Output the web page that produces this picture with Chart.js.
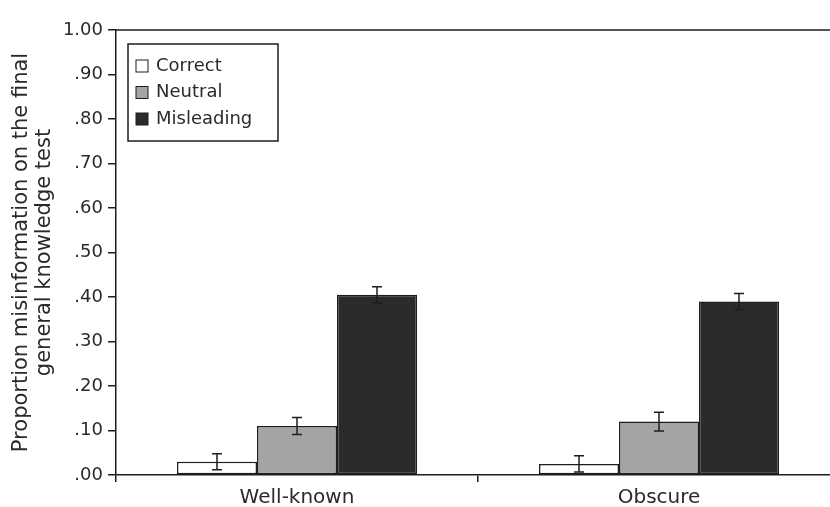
<!DOCTYPE html>
<html>
<head>
<meta charset="utf-8">
<script src="https://cdn.jsdelivr.net/npm/chart.js@4.4.1/dist/chart.umd.min.js"></script>
<style>
  html, body { margin: 0; padding: 0; background: #fff; overflow: hidden; }
  #wrap { width: 850px; height: 507px; }
</style>
</head>
<body>
<div id="wrap"><canvas id="myChart" width="850" height="507"></canvas></div>
<script>
// data
const categories = ['Well-known', 'Obscure'];
const seriesNames = ['Correct', 'Neutral', 'Misleading'];
const correct = [0.03, 0.025];
const neutral = [0.11, 0.12];
const misleading = [0.405, 0.39];
const correctErr = [0.018, 0.018];
const neutralErr = [0.019, 0.021];
const misleadingErr = [0.018, 0.018];
const yTickValues = [0, 0.1, 0.2, 0.3, 0.4, 0.5, 0.6, 0.7, 0.8, 0.9, 1.0];
const yTitle = ['Proportion misinformation on the final', 'general knowledge test'];

const ink = '#1e1e1e';
const txt = '#2a2a2a';
const fam = '"DejaVu Sans", sans-serif';

// top line of the frame
const framePlugin = {
  id: 'frame',
  beforeDatasetsDraw(chart) {
    const a = chart.chartArea;
    const ctx = chart.ctx;
    ctx.save();
    ctx.strokeStyle = ink;
    ctx.lineWidth = 1.5;
    ctx.beginPath();
    ctx.moveTo(a.left, a.top);
    ctx.lineTo(a.right, a.top);
    ctx.stroke();
    ctx.restore();
  }
};

// error bars on top of each bar
const errorBarPlugin = {
  id: 'errorBars',
  afterDatasetsDraw(chart) {
    const ctx = chart.ctx;
    const y = chart.scales.y;
    ctx.save();
    ctx.strokeStyle = ink;
    ctx.lineWidth = 1.5;
    chart.data.datasets.forEach((ds, i) => {
      const meta = chart.getDatasetMeta(i);
      meta.data.forEach((bar, j) => {
        const v = ds.data[j];
        const e = ds.errors[j];
        const top = y.getPixelForValue(v + e);
        const bot = y.getPixelForValue(v - e);
        ctx.beginPath();
        ctx.moveTo(bar.x, top); ctx.lineTo(bar.x, bot);
        ctx.moveTo(bar.x - 5, top); ctx.lineTo(bar.x + 5, top);
        ctx.moveTo(bar.x - 5, bot); ctx.lineTo(bar.x + 5, bot);
        ctx.stroke();
      });
    });
    ctx.restore();
  }
};

// boxed legend inside the plot, upper left
const boxLegendPlugin = {
  id: 'boxLegend',
  afterDraw(chart) {
    const a = chart.chartArea;
    const ctx = chart.ctx;
    const x0 = a.left + 12, y0 = a.top + 14;
    ctx.save();
    ctx.fillStyle = '#fff';
    ctx.fillRect(x0, y0, 150, 97);
    ctx.strokeStyle = ink;
    ctx.lineWidth = 1.5;
    ctx.strokeRect(x0, y0, 150, 97);
    ctx.font = '18px ' + fam;
    ctx.textBaseline = 'middle';
    chart.data.datasets.forEach((ds, i) => {
      const cy = y0 + 22 + i * 26.5;
      ctx.fillStyle = ds.backgroundColor;
      ctx.fillRect(x0 + 8, cy - 6, 12, 12);
      ctx.lineWidth = 1;
      ctx.strokeStyle = ink;
      ctx.strokeRect(x0 + 8, cy - 6, 12, 12);
      ctx.fillStyle = txt;
      ctx.fillText(ds.label, x0 + 28, cy);
    });
    ctx.restore();
  }
};

const ctx = document.getElementById('myChart').getContext('2d');
const myChart = new Chart(ctx, {
  type: 'bar',
  data: {
    labels: categories,
    datasets: [
      { label: seriesNames[0], data: correct, errors: correctErr, backgroundColor: '#ffffff' },
      { label: seriesNames[1], data: neutral, errors: neutralErr, backgroundColor: '#a4a4a4' },
      { label: seriesNames[2], data: misleading, errors: misleadingErr, backgroundColor: '#2b2b2b' }
    ].map(d => Object.assign(d, { borderColor: ink, borderWidth: 1.5, borderSkipped: false }))
  },
  options: {
    responsive: false,
    animation: false,
    categoryPercentage: 0.663,
    barPercentage: 1.0,
    layout: { padding: { top: 30, right: 10, bottom: 0, left: 0 } },
    plugins: {
      legend: { display: false },
      tooltip: { enabled: false }
    },
    scales: {
      x: {
        offset: true,
        grid: { drawOnChartArea: false, offset: true, tickLength: 7, color: ink, lineWidth: 1.5 },
        border: { color: ink, width: 1.5 },
        ticks: { color: txt, font: { family: fam, size: 20 }, padding: 4 },
        afterFit(s) { s.height = 32; }
      },
      y: {
        min: 0,
        max: 1,
        afterBuildTicks(s) { s.ticks = yTickValues.map(v => ({ value: v })); },
        grid: { drawOnChartArea: false, tickLength: 8, color: ink, lineWidth: 1.5 },
        border: { color: ink, width: 1.5 },
        ticks: {
          color: txt,
          font: { family: fam, size: 18 },
          padding: 5,
          callback: v => v === 1 ? '1.00' : v.toFixed(2).replace(/^0/, '')
        },
        title: {
          display: true,
          text: yTitle,
          color: txt,
          font: { family: fam, size: 21, lineHeight: 1.1 },
          padding: { top: 10, bottom: 0 }
        },
        afterFit(s) { s.width = 116; }
      }
    }
  },
  plugins: [framePlugin, errorBarPlugin, boxLegendPlugin]
});
</script>
</body>
</html>
